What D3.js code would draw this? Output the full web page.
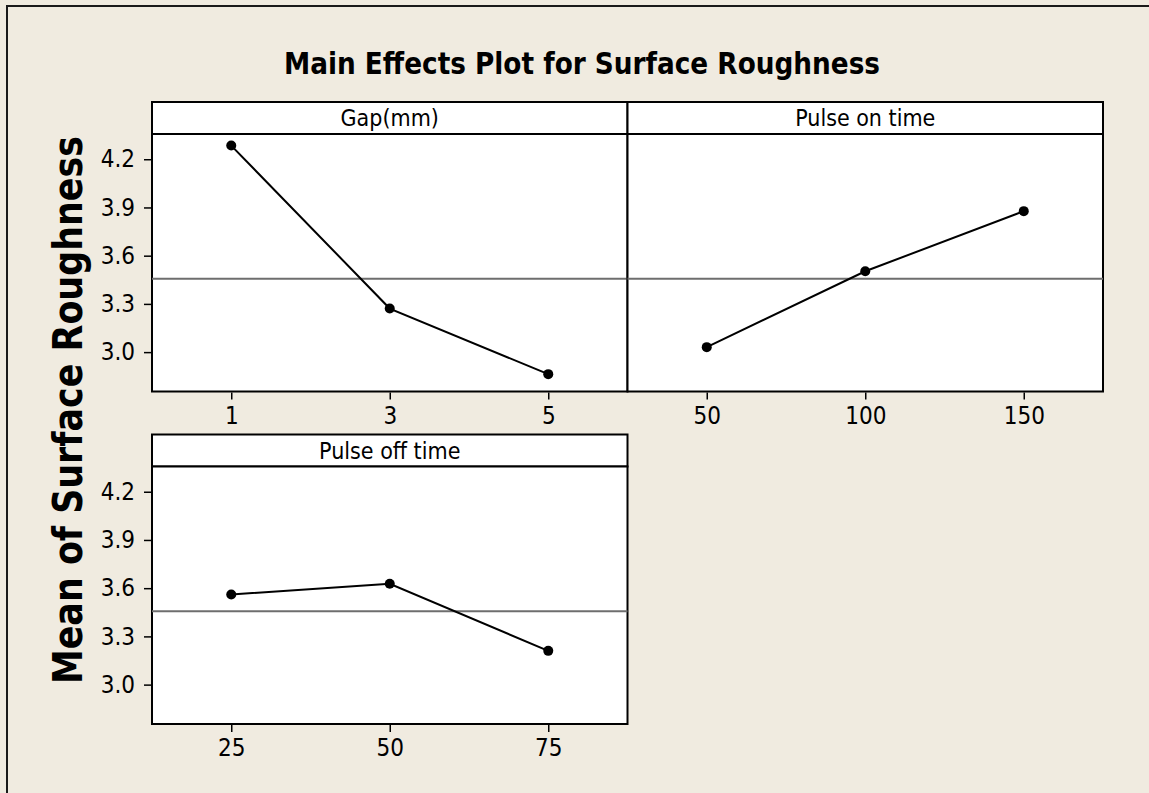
<!DOCTYPE html>
<html>
<head>
<meta charset="utf-8">
<script src="https://cdn.jsdelivr.net/npm/d3@7"></script>
<style>
  body { margin: 0; background: #f0ebe0; }
  svg { display: block; }
  .tick text { font-family: "DejaVu Sans Condensed", "DejaVu Sans", sans-serif; font-size: 24px; fill: #000; }
  .tick line { stroke: #000; stroke-width: 1.5; }
</style>
</head>
<body>
<div id="chart"></div>
<script>
const W = 1149, H = 793;

const chartTitle = "Main Effects Plot for Surface Roughness";
const yLabel = "Mean of Surface Roughness";

const factors = ["Gap(mm)", "Pulse on time", "Pulse off time"];
const gapLevels = [1, 3, 5];
const gapMeans = [4.285, 3.271, 2.863];
const onLevels = [50, 100, 150];
const onMeans = [3.031, 3.503, 3.877];
const offLevels = [25, 50, 75];
const offMeans = [3.561, 3.627, 3.210];

const yTicks = [3.0, 3.3, 3.6, 3.9, 4.2];
const yDomain = [2.755, 4.357];
const grandMean = 3.456;

// panel grid
const colX = [152, 627.5];
const colW = 475.5;
const rowY = [102, 434.5];
const headH = 32;
const plotH = 257.5;

const panels = [
	{ name: factors[0], levels: gapLevels, means: gapMeans, row: 0, col: 0, yAxis: true },
	{ name: factors[1], levels: onLevels, means: onMeans, row: 0, col: 1, yAxis: false },
	{ name: factors[2], levels: offLevels, means: offMeans, row: 1, col: 0, yAxis: true }
];

const svg = d3.select("#chart").append("svg")
	.attr("width", W)
	.attr("height", H);

svg.append("rect")
	.attr("width", W).attr("height", H)
	.attr("fill", "#f0ebe0");

// outer frame (only left & top edges are visible)
svg.append("rect")
	.attr("x", 7).attr("y", 6)
	.attr("width", W + 20).attr("height", H + 20)
	.attr("fill", "none")
	.attr("stroke", "#1a1a1a")
	.attr("stroke-width", 2);

svg.append("text")
	.attr("x", 582).attr("y", 74)
	.attr("text-anchor", "middle")
	.attr("font-family", "'DejaVu Sans Condensed', 'DejaVu Sans', sans-serif")
	.attr("font-weight", "bold")
	.attr("font-size", 30)
	.attr("textLength", 596)
	.attr("lengthAdjust", "spacingAndGlyphs")
	.text(chartTitle);

svg.append("text")
	.attr("transform", "translate(82,410) rotate(-90)")
	.attr("text-anchor", "middle")
	.attr("font-family", "'DejaVu Sans', sans-serif")
	.attr("font-weight", "bold")
	.attr("font-size", 40)
	.attr("textLength", 548)
	.attr("lengthAdjust", "spacingAndGlyphs")
	.text(yLabel);

panels.forEach(p => {
	const x0 = colX[p.col];
	const top = rowY[p.row];
	const py = top + headH;

	const x = d3.scalePoint()
		.domain(p.levels)
		.range([x0, x0 + colW])
		.padding(0.5);

	const y = d3.scaleLinear()
		.domain(yDomain)
		.range([py + plotH, py]);

	const g = svg.append("g");

	// header strip
	g.append("rect")
		.attr("x", x0).attr("y", top)
		.attr("width", colW).attr("height", headH)
		.attr("fill", "#fff")
		.attr("stroke", "#000").attr("stroke-width", 2);

	g.append("text")
		.attr("x", x0 + colW / 2).attr("y", top + 24)
		.attr("text-anchor", "middle")
		.attr("font-family", "'DejaVu Sans Condensed', 'DejaVu Sans', sans-serif")
		.attr("font-size", 23)
		.text(p.name);

	// plot area
	g.append("rect")
		.attr("x", x0).attr("y", py)
		.attr("width", colW).attr("height", plotH)
		.attr("fill", "#fff")
		.attr("stroke", "#000").attr("stroke-width", 2);

	g.append("line")
		.attr("x1", x0).attr("x2", x0 + colW)
		.attr("y1", y(grandMean)).attr("y2", y(grandMean))
		.attr("stroke", "#6e6e6e").attr("stroke-width", 2);

	const pts = p.levels.map((lv, i) => ({ lv, m: p.means[i] }));

	g.append("path")
		.datum(pts)
		.attr("d", d3.line().x(d => x(d.lv)).y(d => y(d.m)))
		.attr("fill", "none")
		.attr("stroke", "#000").attr("stroke-width", 2);

	g.selectAll(".pt")
		.data(pts)
		.enter().append("circle")
		.attr("cx", d => x(d.lv)).attr("cy", d => y(d.m))
		.attr("r", 5)
		.attr("fill", "#000");

	g.append("g")
		.attr("transform", `translate(0,${py + plotH + 1})`)
		.call(d3.axisBottom(x).tickSize(7).tickPadding(7))
		.call(a => a.select(".domain").remove());

	if (p.yAxis) {
		g.append("g")
			.attr("transform", `translate(${x0 - 1},0)`)
			.call(d3.axisLeft(y).tickValues(yTicks).tickFormat(d3.format(".1f")).tickSize(7).tickPadding(9))
			.call(a => a.select(".domain").remove());
	}
});
</script>
</body>
</html>
